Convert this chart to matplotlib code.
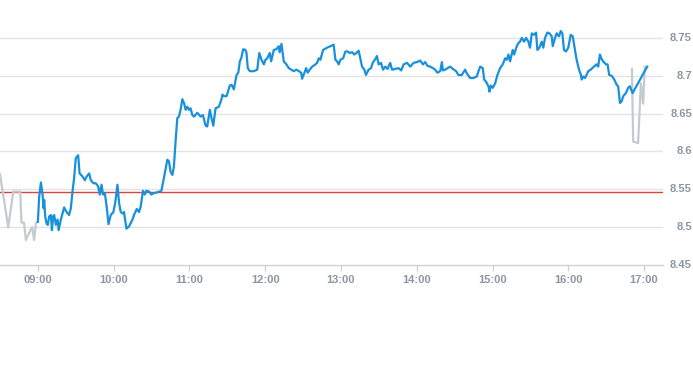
import matplotlib
matplotlib.use("Agg")
from matplotlib import pyplot as plt
from matplotlib.transforms import blended_transform_factory

# 时间: 距 09:00 的分钟数
pre_t = [-30, -23.5, -19.5, -14, -13, -11, -9.5, -7, -4.5, -3, -1.5, 0]
pre_p = [8.570, 8.500, 8.547, 8.547, 8.506, 8.506, 8.483, 8.492, 8.500, 8.483, 8.506, 8.507]

main_t = [0, 1.0, 2.4, 3.7, 4.5, 5.0, 5.8, 6.9, 7.9, 8.9, 10.3, 11.1, 12.1, 12.9, 14.2, 15.6, 16.4, 18.2,
          19.5, 20.8, 22.7, 24.7, 26.1, 27.4, 28.7, 30.0, 31.9, 33.0, 35.3, 37.2, 38.7, 40.6, 41.9, 44.0,
          45.8, 47.7, 49.0, 50.4, 51.6, 53.0, 54.5, 55.9, 57.7, 59.8, 61.4, 63.0, 64.3, 65.6, 67.2, 68.2,
          70.1, 72.2, 74.9, 76.1, 78.3, 80.1, 81.4, 83.2, 84.6, 85.9, 88.0, 89.9, 91.9, 94.6, 97.8, 99.8,
          102.5, 103.8, 105.1, 106.5, 107.7, 109.1, 110.4, 111.7, 113.0, 114.4, 115.7, 117.0, 118.3, 119.6,
          120.9, 122.3, 123.6, 126.2, 128.9, 130.7, 132.8, 134.1, 136.2, 137.5, 138.9, 140.7, 143.3, 145.2,
          146.2, 147.3, 149.4, 152.0, 153.4, 155.2, 157.3, 158.7, 159.9, 161.0, 162.6, 164.4, 165.2, 166.2,
          167.8, 171.0, 173.7, 175.3, 177.1, 178.9, 180.2, 181.6, 183.6, 184.7, 186.8, 188.9, 190.8, 191.5,
          192.9, 194.7, 196.8, 198.7, 200.6, 202.6, 204.7, 206.6, 208.5, 209.2, 211.1, 212.4, 213.7, 215.3,
          217.2, 219.8, 221.1, 222.4, 223.7, 225.8, 229.0, 231.6, 234.2, 235.6, 236.9, 238.2, 239.5, 241.7,
          243.5, 245.3, 246.9, 248.8, 250.6, 252.2, 254.0, 255.3, 256.7, 258.5, 259.8, 261.9, 263.8, 265.1,
          267.2, 268.5, 269.8, 271.7, 273.3, 275.1, 276.9, 279.0, 280.4, 283.0, 285.6, 287.7, 289.6, 292.3,
          294.9, 297.5, 300.2, 302.8, 304.9, 306.7, 308.5, 310.7, 312.8, 314.6, 316.4, 318.6, 319.9, 320.7,
          322.5, 324.4, 326.5, 328.6, 331.2, 333.0, 335.7, 338.3, 339.7, 342.3, 344.9, 347.6, 348.9, 350.2,
          352.3, 353.4, 354.9, 356.8, 357.6, 358.7, 360.2, 362.1, 363.9, 366.0, 368.1, 370.0, 371.3, 372.6,
          373.9, 376.0, 377.1, 379.2, 380.5, 381.8, 383.2, 385.0, 386.6, 388.4, 389.7, 391.1, 392.9, 394.5,
          395.5, 397.1, 399.0, 400.2, 401.6, 403.4, 405.0, 406.9, 407.7, 409.5, 410.8, 412.7, 414.0, 415.3,
          416.6, 418.2, 420.0, 421.9, 423.5, 425.3, 426.6, 428.5, 430.0, 430.6, 431.9, 433.2, 434.5, 435.8,
          437.7, 440.3, 442.4, 443.7, 445.0, 446.4, 447.6, 449.8, 451.1, 452.4, 454.3, 456.4, 458.3, 459.5,
          460.9, 462.2, 463.5, 465.6, 467.4, 468.8, 470.9, 482.5]
main_p = [8.507, 8.540, 8.559, 8.543, 8.525, 8.536, 8.514, 8.505, 8.503, 8.514, 8.516, 8.496, 8.514, 8.516,
          8.503, 8.510, 8.496, 8.510, 8.518, 8.526, 8.520, 8.516, 8.525, 8.547, 8.565, 8.591, 8.595, 8.571,
          8.567, 8.562, 8.567, 8.571, 8.562, 8.558, 8.558, 8.554, 8.543, 8.556, 8.543, 8.545, 8.527, 8.504,
          8.516, 8.520, 8.534, 8.556, 8.532, 8.520, 8.518, 8.520, 8.498, 8.501, 8.510, 8.516, 8.524, 8.520,
          8.527, 8.548, 8.543, 8.548, 8.547, 8.543, 8.545, 8.546, 8.548, 8.565, 8.589, 8.587, 8.573, 8.569,
          8.580, 8.615, 8.644, 8.646, 8.655, 8.669, 8.664, 8.655, 8.659, 8.655, 8.657, 8.648, 8.646, 8.651,
          8.646, 8.648, 8.634, 8.633, 8.655, 8.644, 8.634, 8.657, 8.659, 8.668, 8.675, 8.673, 8.673, 8.687,
          8.688, 8.682, 8.701, 8.704, 8.719, 8.723, 8.735, 8.734, 8.730, 8.710, 8.706, 8.706, 8.708, 8.730,
          8.721, 8.715, 8.721, 8.723, 8.730, 8.719, 8.734, 8.735, 8.739, 8.731, 8.742, 8.719, 8.715, 8.710,
          8.708, 8.706, 8.708, 8.706, 8.704, 8.696, 8.704, 8.710, 8.704, 8.708, 8.712, 8.715, 8.717, 8.723,
          8.721, 8.734, 8.737, 8.739, 8.741, 8.721, 8.719, 8.715, 8.721, 8.723, 8.732, 8.732, 8.730, 8.731,
          8.728, 8.730, 8.733, 8.723, 8.712, 8.708, 8.701, 8.708, 8.710, 8.717, 8.722, 8.726, 8.715, 8.717,
          8.708, 8.712, 8.709, 8.717, 8.708, 8.709, 8.710, 8.707, 8.715, 8.717, 8.712, 8.717, 8.718, 8.720,
          8.715, 8.718, 8.713, 8.712, 8.710, 8.708, 8.704, 8.706, 8.718, 8.707, 8.708, 8.710, 8.712, 8.709,
          8.706, 8.701, 8.701, 8.708, 8.703, 8.697, 8.697, 8.699, 8.706, 8.712, 8.710, 8.695, 8.692, 8.686,
          8.679, 8.687, 8.684, 8.690, 8.701, 8.710, 8.715, 8.723, 8.721, 8.728, 8.719, 8.734, 8.728, 8.739,
          8.743, 8.745, 8.750, 8.745, 8.750, 8.745, 8.737, 8.756, 8.754, 8.757, 8.734, 8.737, 8.745, 8.737,
          8.750, 8.757, 8.756, 8.752, 8.739, 8.750, 8.756, 8.752, 8.759, 8.756, 8.734, 8.732, 8.737, 8.754,
          8.752, 8.734, 8.721, 8.708, 8.701, 8.695, 8.699, 8.697, 8.701, 8.706, 8.708, 8.712, 8.715, 8.712,
          8.728, 8.722, 8.719, 8.715, 8.715, 8.701, 8.700, 8.695, 8.688, 8.686, 8.664, 8.666, 8.673, 8.677,
          8.684, 8.686, 8.677, 8.712]

post_t = [470.4, 471.4, 475.3, 477.5, 479.3, 480.6]
post_p = [8.709, 8.613, 8.611, 8.690, 8.663, 8.712]

prev_close = 8.546
x_ticks = [0, 60, 120, 180, 240, 300, 360, 420, 480]
x_labels = ["09:00", "10:00", "11:00", "12:00", "13:00", "14:00", "15:00", "16:00", "17:00"]
y_ticks = [8.45, 8.5, 8.55, 8.6, 8.65, 8.7, 8.75]
y_labels = ["8.45", "8.5", "8.55", "8.6", "8.65", "8.7", "8.75"]

plt.rcParams['font.family'] = ['Liberation Sans', 'DejaVu Sans']
fig = plt.figure(figsize=(6.93, 3.65), dpi=100)
ax = fig.add_axes([0, 100 / 365, 663 / 693, 265 / 365])

for y in y_ticks[1:]:
    ax.axhline(y, color='#e3e3e3', lw=1, zorder=0)
ax.axhline(prev_close, color='#d9453c', lw=1, zorder=2)

ax.plot(pre_t, pre_p, color='#c3cbd1', lw=1.6, zorder=3)
ax.plot(post_t, post_p, color='#c3cbd1', lw=1.6, zorder=3)
ax.plot(main_t, main_p, color='#1890dc', lw=1.6, zorder=4, solid_joinstyle='round')

ax.set_xlim(-30, 495)
ax.set_ylim(8.45, 8.80)
ax.set_xticks(x_ticks)
ax.set_xticklabels(x_labels, fontweight='bold')
ax.set_yticks([])

# 右侧价格标签, 右对齐到图边
tr = blended_transform_factory(fig.transFigure, ax.transData)
for y, lab in zip(y_ticks, y_labels):
    ax.text(692 / 693, y, lab, transform=tr, ha='right', va='center',
            fontsize=8, fontweight='bold', color='#8c96a3', clip_on=False)

for s in ['top', 'left', 'right']:
    ax.spines[s].set_visible(False)
ax.spines['bottom'].set_color('#cfd3d8')
ax.spines['bottom'].set_linewidth(1)

ax.tick_params(axis='x', length=4, width=1, color='#cfd3d8', pad=3,
               labelsize=8, labelcolor='#8c96a3')

fig.savefig("out.png", dpi=100)
